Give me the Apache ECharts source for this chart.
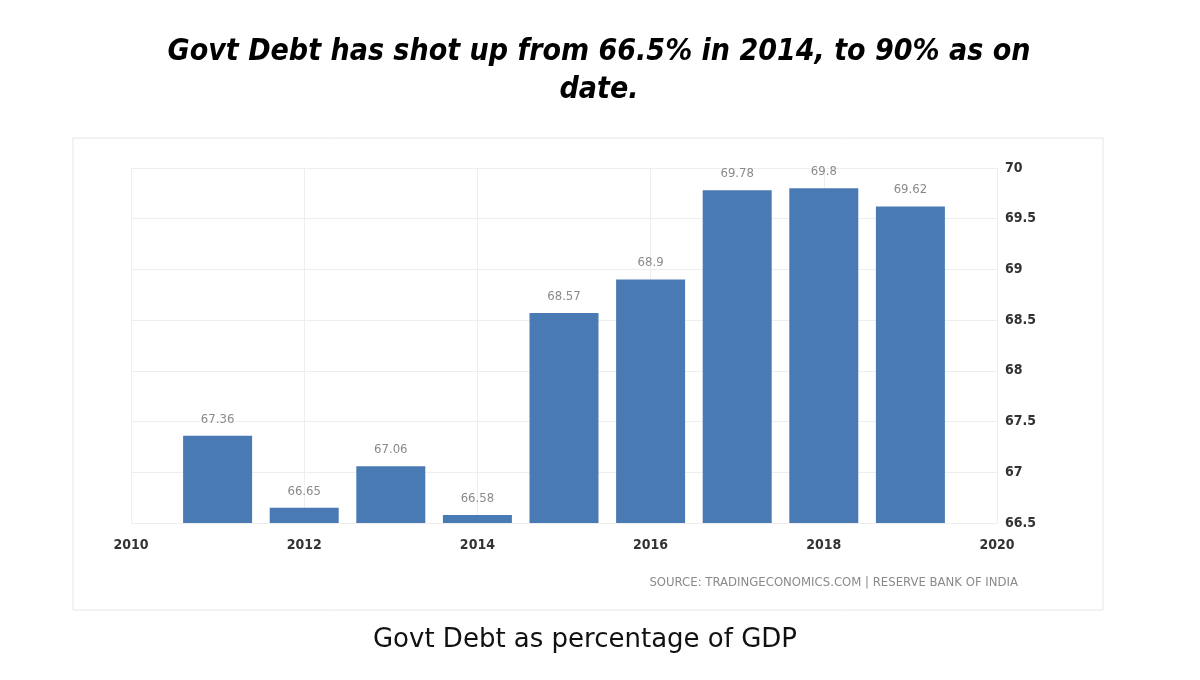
<!DOCTYPE html>
<html>
<head>
<meta charset="utf-8">
<script src="https://cdn.jsdelivr.net/npm/echarts@6/dist/echarts.min.js"></script>
<style>
  html, body { margin: 0; padding: 0; background: #fff; }
  #chart { width: 1200px; height: 680px; }
</style>
</head>
<body>
<div id="chart"></div>
<script>
// data
const years = [2011, 2012, 2013, 2014, 2015, 2016, 2017, 2018, 2019];
const debtPct = [67.36, 66.65, 67.06, 66.58, 68.57, 68.9, 69.78, 69.8, 69.62];
const yTicks = [66.5, 67, 67.5, 68, 68.5, 69, 69.5, 70];

const chart = echarts.init(document.getElementById("chart"));

const option = {
  backgroundColor: "#fff",
  animation: false,
  title: [
    {
      text: "Govt Debt has shot up from 66.5% in 2014, to 90% as on\ndate.",
      left: 594,
      top: 28,
      textAlign: "center",
      textStyle: {
        fontFamily: "DejaVu Sans Condensed",
        fontStyle: "italic",
        fontWeight: "bold",
        fontSize: 30,
        lineHeight: 38,
        color: "#000",
      },
    },
    {
      text: "Govt Debt as percentage of GDP",
      left: 580,
      top: 622,
      textAlign: "center",
      textStyle: {
        fontFamily: "DejaVu Sans",
        fontWeight: "normal",
        fontSize: 26,
        color: "#111",
      },
    },
  ],
  graphic: [
    {
      type: "rect",
      shape: { x: 73, y: 138, width: 1030, height: 472 },
      style: { fill: "none", stroke: "#e6e6e6", lineWidth: 1 },
      z: -1,
    },
    {
      type: "text",
      right: 182,
      top: 576,
      style: {
        text: "SOURCE: TRADINGECONOMICS.COM | RESERVE BANK OF INDIA",
        fill: "#8a8a8a",
        font: "13px 'DejaVu Sans Condensed', sans-serif",
      },
    },
  ],
  grid: {
    left: 131,
    right: 203,
    top: 168,
    bottom: 157,
  },
  xAxis: {
    type: "value",
    min: 2010,
    max: 2020,
    interval: 2,
    axisLine: { show: false },
    axisTick: { show: false },
    axisLabel: {
      color: "#333",
      fontSize: 14,
      fontWeight: "bold",
      fontFamily: "DejaVu Sans Condensed",
      margin: 15,
      formatter: (v) => String(v),
    },
    splitLine: { show: true, lineStyle: { color: "#eeeeee" } },
  },
  yAxis: {
    type: "value",
    position: "right",
    min: 66.5,
    max: 70,
    interval: 0.5,
    axisLine: { show: true, lineStyle: { color: "#eeeeee" } },
    axisTick: { show: false },
    axisLabel: {
      color: "#333",
      fontSize: 14,
      fontWeight: "bold",
      fontFamily: "DejaVu Sans Condensed",
      margin: 8,
      formatter: (v) => (yTicks.includes(v) ? String(v) : ""),
    },
    splitLine: { show: true, lineStyle: { color: "#eeeeee" } },
  },
  series: [
    {
      type: "bar",
      data: years.map((y, i) => [y, debtPct[i]]),
      barWidth: 69,
      itemStyle: { color: "#4a7ab3" },
      label: {
        show: true,
        position: "top",
        distance: 10,
        color: "#8a8a8a",
        fontSize: 13,
        fontFamily: "DejaVu Sans Condensed",
        formatter: (p) => String(p.value[1]),
      },
    },
  ],
};

chart.setOption(option);
</script>
</body>
</html>
